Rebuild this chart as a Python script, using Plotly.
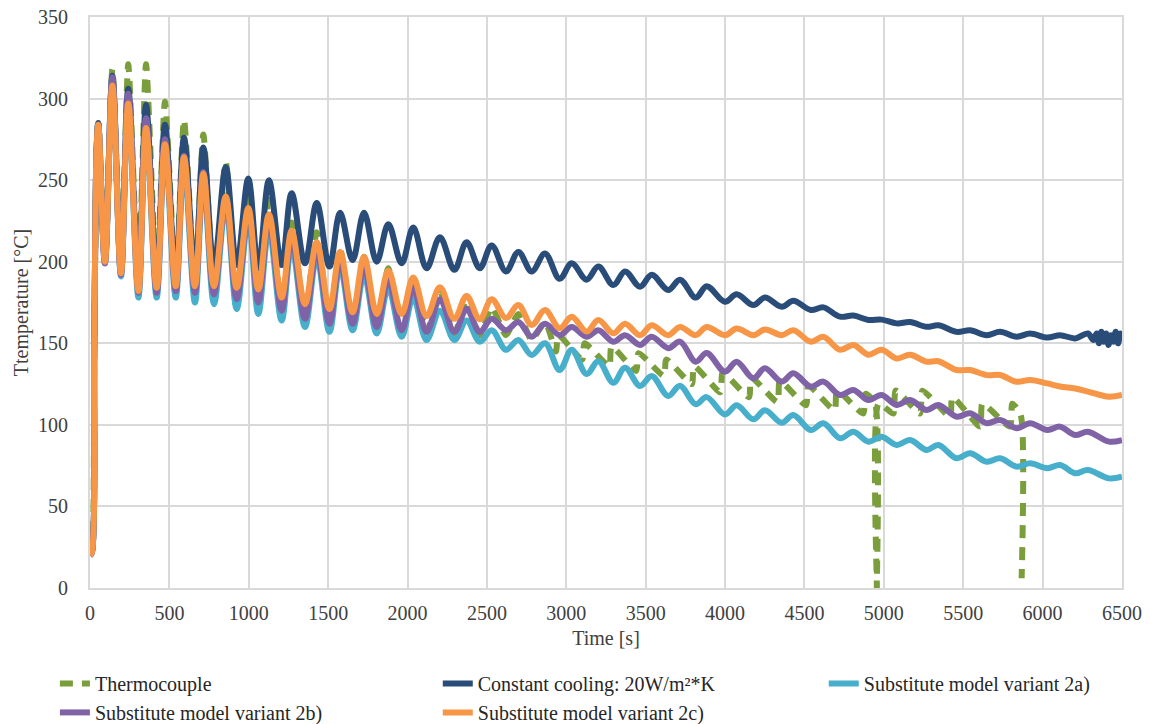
import plotly.graph_objects as go

# ---------------------------------------------------------------
# Times of the oscillation maxima / minima [s] (shared by the simulated curves)
heat_t = [0, 12, 27, 42]
peak_t = [52, 141, 241, 353, 472, 592, 714, 855, 997, 1127, 1270, 1428, 1575, 1726,
          1879, 2036, 2204, 2372, 2530, 2698, 2866, 3034, 3202, 3370, 3538, 3716,
          3884, 4073, 4251, 4430, 4619, 4808, 4986, 5165, 5343, 5543, 5732, 5921,
          6110, 6285]
trough_t = [94, 195, 305, 420, 540, 661, 781, 924, 1060, 1207, 1354, 1508, 1654, 1806,
            1963, 2120, 2295, 2455, 2620, 2782, 2958, 3128, 3296, 3464, 3642, 3815,
            3999, 4178, 4357, 4540, 4724, 4902, 5081, 5270, 5459, 5648, 5837, 6030,
            6205, 6418]
end_t = 6500

# Initial heating ramp [°C]
heat_vals = [20, 22, 150, 270]

# Constant cooling: 20 W/m²K
blue_peaks = [285, 314, 306, 296, 284, 276, 270, 258, 251, 250, 242, 236, 230, 230,
              223, 221, 215, 212, 210, 206, 205, 199, 197, 194, 192, 189, 185, 180,
              178, 176, 172, 167, 164.5, 163, 161, 158, 157, 156, 155, 156]
blue_troughs = [201, 193, 186, 188, 190, 193, 197, 198, 196, 198, 199, 197, 201, 200,
                199, 196, 195, 196, 194, 194, 189.5, 189, 185.7, 184.7, 182.6, 178,
                175.5, 173.4, 172.4, 170.4, 166.3, 164.3, 162.2, 160.1, 157, 155,
                154, 153.5, 153, 151]
blue_tail_t = [6320, 6340, 6355, 6370, 6385, 6400, 6415, 6430, 6445, 6460, 6475, 6490, 6500]
blue_tail = [152, 156, 150, 157, 151, 156, 149, 155, 151, 157, 150, 156, 153]

# Substitute model variant 2a)
cyan_peaks = [283, 310, 297, 281, 269, 260, 250, 235, 226, 220, 210, 203, 197, 192,
              184, 178, 170, 164, 158, 152, 150, 146, 139, 135, 130, 124, 117, 112,
              109, 106, 101, 95.8, 92.7, 90.7, 87.7, 82.6, 79.5, 76.4, 75.4, 72.3]
cyan_troughs = [199, 191, 178, 178, 178, 175, 174, 171, 168, 164, 160, 157, 158, 156,
                154, 152, 152, 151, 146, 142.8, 133.6, 131.2, 125.8, 123.8, 117.7,
                112.6, 106.4, 103.4, 101.3, 96.8, 91.8, 89.7, 87.7, 84.6, 79.5, 77.4,
                74.4, 73.4, 70.3, 67.2]
cyan_end = 68.2

# Substitute model variant 2b)
purple_peaks = [284, 313, 303, 288, 275, 265, 255, 239, 231, 226, 215, 207, 201, 197,
                189, 184, 177, 171, 165, 163, 162, 160, 158, 155, 154, 151, 144, 138.7,
                134.7, 131.6, 126.5, 121.4, 118.3, 115.2, 112.2, 107.1, 103, 101, 98.9,
                95.8]
purple_troughs = [199, 192, 181, 181, 182, 181, 180, 177, 175, 170, 165, 162, 162, 160,
                  158, 157, 157, 157, 158, 154, 155, 154, 151, 149, 147, 138.7, 132.6,
                  128.5, 126.5, 123.4, 118.3, 115.2, 112.2, 109.1, 105, 101, 97.9, 96.8,
                  93.8, 89.7]
purple_end = 90.7

# Substitute model variant 2c)
orange_peaks = [284, 308, 297, 282, 272, 264, 254, 240, 233, 229, 219, 212, 206, 203,
                194.5, 190.4, 184.3, 179, 177, 173.5, 170.4, 166.3, 164.3, 162, 161,
                160, 160, 159, 158.5, 158, 154, 149, 146, 143, 139, 133.6, 130.6, 127.5,
                123.5, 120.4]
orange_troughs = [200, 193, 182, 184, 185, 185, 185, 184, 183, 178, 174, 171, 169, 168,
                  168, 166.7, 165, 164.7, 165.5, 161.2, 159.2, 157.2, 156.1, 155, 155,
                  155, 155, 155, 155, 151, 146, 143, 140.7, 138.7, 133.6, 130.5, 126.4,
                  125.4, 122.3, 117.2]
orange_end = 118.3

# Thermocouple: first 21 cycles on the shared grid, then its own record
green_peaks = [287, 318, 321, 321, 298, 287, 278, 261, 245, 238, 224, 218, 208, 203,
               196, 189, 182, 176, 172, 168, 163]
green_troughs = [203, 194, 186, 188, 188, 186, 184, 180, 177, 172, 167, 163, 162, 160,
                 158, 157, 156, 155, 155, 152]
green_late_t = [2935, 2950, 3100, 3115, 3270, 3285, 3440, 3455, 3615, 3630, 3790, 3805,
                3970, 3985, 4150, 4165, 4330, 4345, 4510, 4525, 4690, 4705, 4870, 4885,
                4945, 4956, 4967, 5060, 5075, 5228, 5243, 5417, 5432, 5606, 5621, 5794,
                5809, 5862, 5868]
green_late = [145, 155, 140, 150, 136, 148, 133, 144, 130, 140, 125, 136, 120, 132,
              117, 129, 114, 127, 112, 124, 109, 121, 107, 119, 113, 0, 113, 107, 121,
              107, 121, 105, 117, 99, 113, 99, 113, 106, 6]

x_ticks = list(range(0, 6501, 500))
y_ticks = list(range(0, 351, 50))


def interleave(peaks, troughs):
    xs, ys = [], []
    for i in range(min(len(peaks), len(troughs))):
        xs += [peak_t[i], trough_t[i]]
        ys += [peaks[i], troughs[i]]
    if len(peaks) > len(troughs):
        xs.append(peak_t[len(troughs)])
        ys.append(peaks[len(troughs)])
    return xs, ys


def series(peaks, troughs, end_val):
    xs, ys = interleave(peaks, troughs)
    return heat_t + xs + [end_t], heat_vals + ys + [end_val]


green_x, green_y = interleave(green_peaks, green_troughs)
green_x = heat_t + green_x + green_late_t
green_y = heat_vals + green_y + green_late

blue_x, blue_y = interleave(blue_peaks, blue_troughs[:-1])
blue_x = heat_t + blue_x + blue_tail_t
blue_y = heat_vals + blue_y + blue_tail

cyan_x, cyan_y = series(cyan_peaks, cyan_troughs, cyan_end)
purple_x, purple_y = series(purple_peaks, purple_troughs, purple_end)
orange_x, orange_y = series(orange_peaks, orange_troughs, orange_end)

FONT = "'Liberation Serif', 'Times New Roman', Times, serif"
LW = 6

fig = go.Figure()
fig.add_trace(go.Scatter(x=green_x, y=green_y, mode="lines", name="Thermocouple",
                         line=dict(color="#7A9E3B", width=LW, dash="13px,9px",
                                   shape="spline", smoothing=0.6),
                         legend="legend"))
fig.add_trace(go.Scatter(x=blue_x, y=blue_y, mode="lines",
                         name="Constant cooling: 20W/m²*K",
                         line=dict(color="#294C79", width=LW, shape="spline", smoothing=1),
                         legend="legend2"))
fig.add_trace(go.Scatter(x=cyan_x, y=cyan_y, mode="lines",
                         name="Substitute model variant 2a)",
                         line=dict(color="#47AECB", width=LW, shape="spline", smoothing=1),
                         legend="legend3"))
fig.add_trace(go.Scatter(x=purple_x, y=purple_y, mode="lines",
                         name="Substitute model variant 2b)",
                         line=dict(color="#7F63A6", width=LW, shape="spline", smoothing=1),
                         legend="legend"))
fig.add_trace(go.Scatter(x=orange_x, y=orange_y, mode="lines",
                         name="Substitute model variant 2c)",
                         line=dict(color="#F79646", width=LW, shape="spline", smoothing=1),
                         legend="legend2"))

grid = "#D9D9D9"
tick_font = dict(family=FONT, size=20, color="#404040")
legend_common = dict(orientation="v", yref="container", yanchor="top", xanchor="left",
                     y=0.083,
                     font=dict(family=FONT, size=20, color="#262626"),
                     bgcolor="rgba(0,0,0,0)", borderwidth=0, tracegroupgap=0,
                     itemwidth=30)

fig.update_layout(
    width=1151, height=724,
    margin=dict(l=90, r=29, t=17, b=136),
    paper_bgcolor="white", plot_bgcolor="white",
    font=dict(family=FONT),
    showlegend=True,
    legend=dict(x=-0.034, **legend_common),
    legend2=dict(x=0.337, **legend_common),
    legend3=dict(x=0.711, **legend_common),
    xaxis=dict(range=[0, 6500], tickvals=x_ticks, ticktext=[str(v) for v in x_ticks],
               showgrid=True, gridcolor=grid, gridwidth=2, zeroline=False,
               showline=True, linecolor=grid, linewidth=2, mirror=True,
               ticks="outside", ticklen=6, tickcolor="rgba(0,0,0,0)",
               tickfont=tick_font, automargin=False,
               title=dict(text="Time [s]", font=tick_font, standoff=8)),
    yaxis=dict(range=[0, 350], tickvals=y_ticks, ticktext=[str(v) for v in y_ticks],
               showgrid=True, gridcolor=grid, gridwidth=2, zeroline=False,
               showline=True, linecolor=grid, linewidth=2, mirror=True,
               ticks="outside", ticklen=16, tickcolor="rgba(0,0,0,0)",
               tickfont=tick_font, automargin=False,
               title=dict(text="Ttemperature [°C]", font=tick_font, standoff=4)),
)

fig.write_html("out.html")
